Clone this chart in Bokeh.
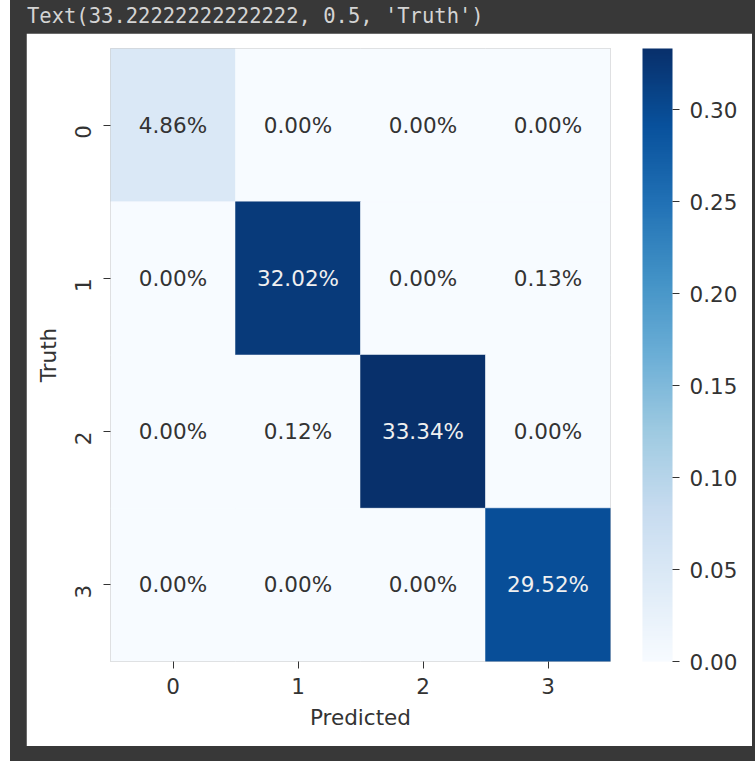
import math
from bokeh.plotting import figure
from bokeh.models import (ColumnDataSource, LinearColorMapper, ColorBar, FixedTicker,
                          PrintfTickFormatter, FactorRange, Div)
from bokeh.transform import transform
from bokeh.core.properties import value
from bokeh.palettes import Blues256
from bokeh.layouts import column
from bokeh.embed import file_html
from bokeh.resources import INLINE

# ---- data ----
predicted = ["0", "1", "2", "3"]
truth = ["0", "1", "2", "3"]
row0 = [0.0486, 0.0000, 0.0000, 0.0000]
row1 = [0.0000, 0.3202, 0.0000, 0.0013]
row2 = [0.0000, 0.0012, 0.3334, 0.0000]
row3 = [0.0000, 0.0000, 0.0000, 0.2952]
cbar_ticks = [0.00, 0.05, 0.10, 0.15, 0.20, 0.25, 0.30]
header_text = "Text(33.22222222222222, 0.5, 'Truth')"

matrix = [row0, row1, row2, row3]
vmax = max(max(r) for r in matrix)
palette = list(reversed(Blues256))
mapper = LinearColorMapper(palette=palette, low=0.0, high=vmax)

xs, ys, vals, labels, tcolors = [], [], [], [], []
for i, r in enumerate(matrix):
    for j, v in enumerate(r):
        xs.append(predicted[j])
        ys.append(truth[i])
        vals.append(v)
        labels.append("{:.2%}".format(v))
        tcolors.append("#f0f0f0" if v / vmax > 0.6 else "#333333")

src = ColumnDataSource(dict(x=xs, y=ys, v=vals, label=labels, tc=tcolors))

FONT = "DejaVu Sans"
FS = "21.5px"
DARK = "#333333"

FRAME_W, FRAME_H = 500, 613

p = figure(width=726, height=713, output_backend="svg", toolbar_location=None,
           x_range=FactorRange(factors=predicted, range_padding=0),
           y_range=FactorRange(factors=list(reversed(truth)), range_padding=0),
           min_border_left=84, min_border_top=15, min_border_bottom=85, min_border_right=142,
           background_fill_color="white", border_fill_color="white")
p.outline_line_color = None
p.grid.visible = False

p.rect(x="x", y="y", width=1, height=1, source=src,
       fill_color=transform("v", mapper), line_color=transform("v", mapper), line_width=0.5)
p.text(x="x", y="y", text="label", source=src, text_align="center", text_baseline="middle",
       text_color="tc", text_font=value(FONT), text_font_size=FS)

for ax in (p.xaxis[0], p.yaxis[0]):
    ax.axis_line_color = None
    ax.major_tick_line_color = "#333333"
    ax.major_tick_in = 0
    ax.major_tick_out = 7
    ax.minor_tick_line_color = None
    ax.major_label_text_font = FONT
    ax.major_label_text_font_size = FS
    ax.major_label_text_color = DARK
    ax.axis_label_text_font = FONT
    ax.axis_label_text_font_size = FS
    ax.axis_label_text_color = DARK
    ax.axis_label_text_font_style = "normal"

p.xaxis.axis_label = "Predicted"
p.xaxis.major_label_standoff = 9
p.xaxis.axis_label_standoff = 8
p.yaxis.axis_label = "Truth"
p.yaxis.major_label_orientation = math.pi / 2
p.yaxis.major_label_standoff = 21
p.yaxis.axis_label_standoff = 3

cb = ColorBar(color_mapper=mapper, ticker=FixedTicker(ticks=cbar_ticks),
              formatter=PrintfTickFormatter(format="%.2f"),
              width=30, height=FRAME_H, padding=0, margin=0, label_standoff=10,
              location=(FRAME_W + 32, 0),
              major_tick_in=0, major_tick_out=7, major_tick_line_color="#333333",
              minor_tick_line_color=None, bar_line_color=None, border_line_color=None,
              major_label_text_font=FONT, major_label_text_font_size=FS,
              major_label_text_color=DARK, background_fill_color="white")
p.add_layout(cb)

div = Div(text='<div style="font-family: \'DejaVu Sans Mono\', monospace; font-size: 20.5px; '
               'color: #d4d4d4; line-height: 33px; padding-left: 17px; white-space: pre;">'
               + header_text + '</div>',
          width=745, height=33, margin=0)

p.margin = (0, 3, 15, 16)
layout = column(div, p, width=745, height=761, spacing=0, margin=(0, 0, 0, 10),
                styles={"background-color": "#383838"})

open("out.html", "w").write(file_html(layout, INLINE))
